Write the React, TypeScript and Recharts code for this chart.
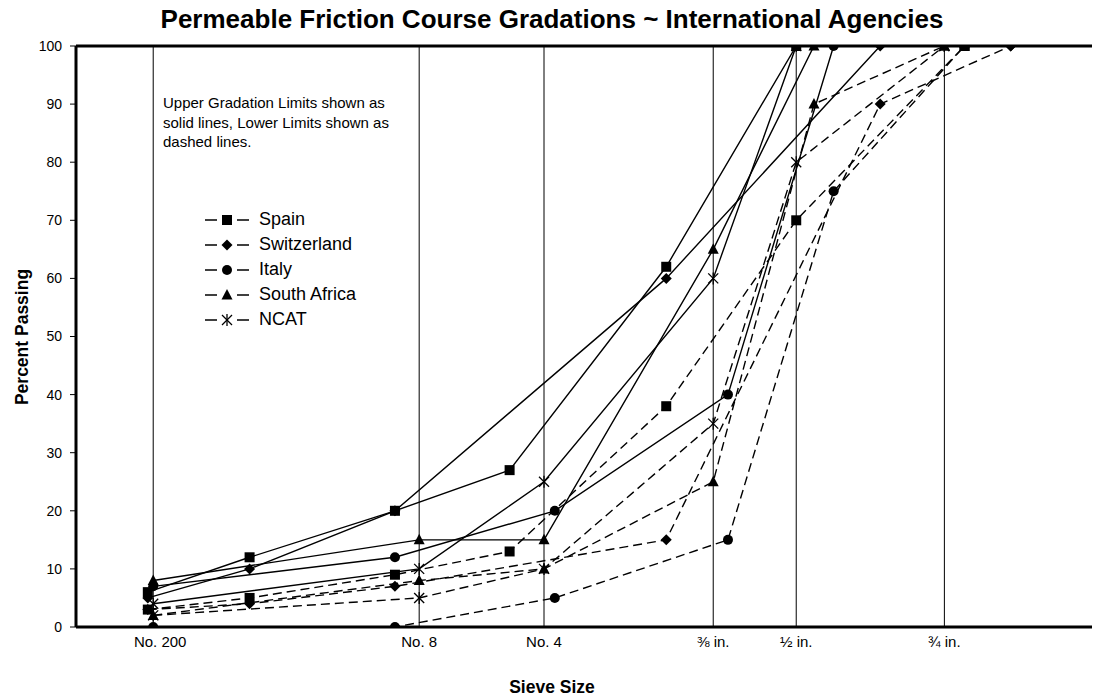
import React from "react";
import {
  LineChart,
  Line,
  XAxis,
  YAxis,
  ReferenceLine,
} from "recharts";

// sieve sizes in mm, values in percent passing
const spainSieves = [0.063, 0.5, 2, 4, 8, 12.5, 20];
const spainUpper = [6, 12, 20, 27, 62, 100, 100];
const spainLower = [3, 5, 9, 13, 38, 70, 100];

const swissSieves = [0.063, 0.5, 2, 8, 16, 22.4];
const swissUpper = [5, 10, 20, 60, 100, 100];
const swissLower = [3, 4, 7, 15, 90, 100];

const italySieves = [0.075, 2, 5, 10, 14, 20];
const italyUpper = [7, 12, 20, 40, 100, 100];
const italyLower = [0, 0, 5, 15, 75, 100];

const saSieves = [0.075, 2.36, 4.75, 9.5, 13.2, 19];
const saUpper = [8, 15, 15, 65, 100, 100];
const saLower = [2, 8, 10, 25, 90, 100];

const ncatSieves = [0.075, 2.36, 4.75, 9.5, 12.5, 19];
const ncatUpper = [4, 10, 25, 60, 100, 100];
const ncatLower = [2, 5, 10, 35, 80, 100];

const tickSieves = [0.075, 2.36, 4.75, 9.5, 12.5, 19];
const tickLabels = ["No. 200", "No. 8", "No. 4", "⅜ in.", "½ in.", "¾ in."];
const yTicks = [0, 10, 20, 30, 40, 50, 60, 70, 80, 90, 100];

const FONT = "'Liberation Sans', Arial, sans-serif";

// 0.45 power gradation chart
const p45 = (mm: number) => Math.pow(mm, 0.45);

const toPoints = (sieves: number[], vals: number[]) =>
  sieves.map((s, i) => ({ x: p45(s), y: vals[i] }));

type Shape = "square" | "diamond" | "circle" | "triangle" | "star";

const agencies: {
  name: string;
  shape: Shape;
  sieves: number[];
  upper: number[];
  lower: number[];
}[] = [
  { name: "Spain", shape: "square", sieves: spainSieves, upper: spainUpper, lower: spainLower },
  { name: "Switzerland", shape: "diamond", sieves: swissSieves, upper: swissUpper, lower: swissLower },
  { name: "Italy", shape: "circle", sieves: italySieves, upper: italyUpper, lower: italyLower },
  { name: "South Africa", shape: "triangle", sieves: saSieves, upper: saUpper, lower: saLower },
  { name: "NCAT", shape: "star", sieves: ncatSieves, upper: ncatUpper, lower: ncatLower },
];

function Marker({ shape, cx, cy }: { shape: Shape; cx: number; cy: number }) {
  if (shape === "square")
    return <rect x={cx - 5} y={cy - 5} width={10} height={10} fill="#000" />;
  if (shape === "diamond")
    return (
      <polygon
        points={`${cx},${cy - 5.5} ${cx + 5.5},${cy} ${cx},${cy + 5.5} ${cx - 5.5},${cy}`}
        fill="#000"
      />
    );
  if (shape === "circle") return <circle cx={cx} cy={cy} r={5} fill="#000" />;
  if (shape === "triangle")
    return (
      <polygon
        points={`${cx},${cy - 6} ${cx + 5.5},${cy + 4.5} ${cx - 5.5},${cy + 4.5}`}
        fill="#000"
      />
    );
  return (
    <g stroke="#000" strokeWidth={1.3}>
      <line x1={cx - 5} y1={cy - 5} x2={cx + 5} y2={cy + 5} />
      <line x1={cx - 5} y1={cy + 5} x2={cx + 5} y2={cy - 5} />
      <line x1={cx} y1={cy - 6} x2={cx} y2={cy + 6} />
    </g>
  );
}

function SieveTick(props: any) {
  const { x, y, payload, index } = props;
  const shift = index === 0 ? 7 : 0;
  return (
    <text
      x={x + shift}
      y={y + 12}
      textAnchor="middle"
      fontSize={15}
      fontFamily={FONT}
      fill="#000"
    >
      {tickLabels[index] ?? payload.value}
    </text>
  );
}

export default function App() {
  const lines: React.ReactNode[] = [];
  agencies.forEach((a) => {
    (["upper", "lower"] as const).forEach((kind) => {
      const id = `${a.name}-${kind}`;
      lines.push(
        <Line
          key={id}
          data={toPoints(a.sieves, a[kind])}
          dataKey="y"
          type="linear"
          stroke="#000"
          strokeWidth={1.4}
          strokeDasharray={kind === "lower" ? "9 5" : undefined}
          isAnimationActive={false}
          activeDot={false}
          dot={(p: any) => (
            <Marker key={`${id}-${p.index}`} shape={a.shape} cx={p.cx} cy={p.cy} />
          )}
        />
      );
    });
  });

  return (
    <div
      style={{
        position: "absolute",
        left: 0,
        top: 0,
        width: 1104,
        height: 700,
        background: "#fff",
        fontFamily: FONT,
      }}
    >
      <div
        style={{
          position: "absolute",
          left: 0,
          width: 1104,
          top: 4,
          textAlign: "center",
          fontSize: 26,
          fontWeight: "bold",
        }}
      >
        Permeable Friction Course Gradations ~ International Agencies
      </div>

      <LineChart
        width={1104}
        height={700}
        margin={{ top: 46, right: 12, bottom: 43, left: 0 }}
      >
        <XAxis
          dataKey="x"
          type="number"
          domain={[-0.025, 4.406]}
          allowDataOverflow
          ticks={tickSieves.map(p45)}
          tick={<SieveTick />}
          tickLine={false}
          axisLine={{ stroke: "#000", strokeWidth: 3 }}
          tickMargin={2}
          height={30}
          interval={0}
        />
        <YAxis
          type="number"
          domain={[0, 100]}
          allowDataOverflow
          ticks={yTicks}
          width={76}
          tickSize={6}
          tickMargin={8}
          tickLine={{ stroke: "#000" }}
          axisLine={{ stroke: "#000", strokeWidth: 3 }}
          tick={{ fontSize: 14, fill: "#000", fontFamily: FONT }}
          interval={0}
        />
        {tickSieves.map((s) => (
          <ReferenceLine key={s} x={p45(s)} stroke="#000" strokeWidth={1} />
        ))}
        <ReferenceLine y={100} stroke="#000" strokeWidth={3} />
        {lines}
      </LineChart>

      <div
        style={{
          position: "absolute",
          left: 163,
          top: 93,
          fontSize: 15,
          lineHeight: "19.5px",
        }}
      >
        Upper Gradation Limits shown as
        <br />
        solid lines, Lower Limits shown as
        <br />
        dashed lines.
      </div>

      <div style={{ position: "absolute", left: 203, top: 207 }}>
        {agencies.map((a) => (
          <div
            key={a.name}
            style={{ display: "flex", alignItems: "center", height: 25 }}
          >
            <svg width={50} height={20}>
              <line x1={2} y1={10} x2={14} y2={10} stroke="#000" strokeWidth={1.5} />
              <Marker shape={a.shape} cx={24} cy={10} />
              <line x1={34} y1={10} x2={46} y2={10} stroke="#000" strokeWidth={1.5} />
            </svg>
            <span style={{ fontSize: 18, marginLeft: 6 }}>{a.name}</span>
          </div>
        ))}
      </div>

      <div
        style={{
          position: "absolute",
          left: 22,
          top: 337,
          transform: "translate(-50%, -50%) rotate(-90deg)",
          fontSize: 17.5,
          fontWeight: "bold",
          whiteSpace: "nowrap",
        }}
      >
        Percent Passing
      </div>

      <div
        style={{
          position: "absolute",
          left: 0,
          width: 1104,
          top: 677,
          textAlign: "center",
          fontSize: 17.5,
          fontWeight: "bold",
        }}
      >
        Sieve Size
      </div>
    </div>
  );
}
